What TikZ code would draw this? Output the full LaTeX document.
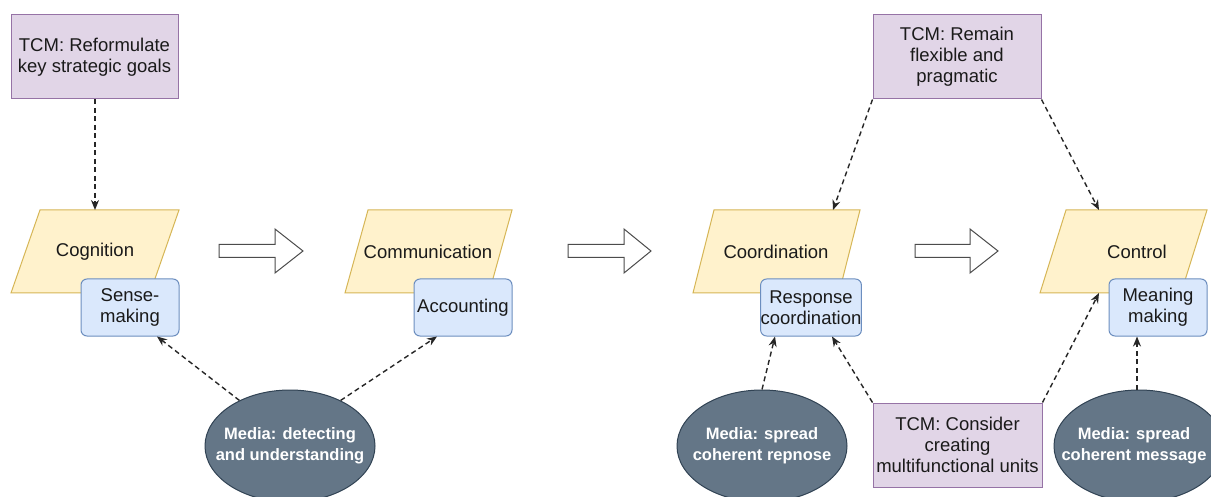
\documentclass[tikz,border=0pt]{standalone}
\usepackage{fontspec}
\setmainfont{Liberation Sans}
\usetikzlibrary{shapes.geometric,arrows.meta}
\definecolor{tcmfill}{HTML}{E1D5E7}
\definecolor{tcmline}{HTML}{9673A6}
\definecolor{yelfill}{HTML}{FFF2CC}
\definecolor{yelline}{HTML}{D6B656}
\definecolor{blufill}{HTML}{DAE8FC}
\definecolor{bluline}{HTML}{6C8EBF}
\definecolor{medfill}{HTML}{647687}
\definecolor{medline}{HTML}{314354}
\definecolor{txt}{HTML}{1A1A1A}
\tikzset{
  basefont/.style={font=\fontsize{18.5}{21}\selectfont, text=txt, align=center},
  tcmbox/.style={basefont, draw=tcmline, fill=tcmfill, line width=1pt, minimum height=84pt, inner sep=0pt},
  phase/.style={draw=yelline, fill=yelfill, line width=1pt},
  phasetext/.style={basefont},
  subbox/.style={basefont, draw=bluline, fill=blufill, line width=1pt, rounded corners=6pt, minimum width=98pt, minimum height=57pt, inner sep=0pt},
  media/.style={ellipse, draw=medline, fill=medfill, line width=1pt, minimum width=170pt, minimum height=112pt, inner sep=0pt},
  mediatext/.style={align=center, text=white, font=\bfseries\fontsize{16.5}{21}\selectfont},
  link/.style={draw=black!85, line width=1.4pt, dash pattern=on 5pt off 3.5pt, -{Stealth[length=10pt,width=8pt]}},
  bigarrow/.style={draw=black!70, fill=white, line width=1pt, line join=miter}
}
\begin{document}
\begin{tikzpicture}[x=1pt,y=-1pt]
\useasboundingbox[fill=white] (0,0) rectangle (1211,497);

% phases (parallelograms)
\draw[phase] (11,293) -- (40,210) -- (179,210) -- (150,293) -- cycle;
\draw[phase] (345,293) -- (368,210) -- (512,210) -- (489,293) -- cycle;
\draw[phase] (693,293) -- (714,210) -- (860,210) -- (839,293) -- cycle;
\draw[phase] (1040,293) -- (1066,210) -- (1207,210) -- (1181,293) -- cycle;
\node[phasetext] (cog) at (95,252) {Cognition};
\node[phasetext] (com) at (428,252) {Communication};
\node[phasetext] (coo) at (776,252) {Coordination};
\node[phasetext] (con) at (1137,252) {Control};

\coordinate (cogtop) at (95,210);
\coordinate (cootop) at (833,210);
\coordinate (contop) at (1099,210);
\coordinate (conbot) at (1099,293);

% hollow arrows
\draw[bigarrow] (219,244.5) -- (275,244.5) -- (275,229) -- (303,251) -- (275,273) -- (275,257.5) -- (219,257.5) -- cycle;
\draw[bigarrow] (568,244.5) -- (624,244.5) -- (624,229) -- (651,251) -- (624,273) -- (624,257.5) -- (568,257.5) -- cycle;
\draw[bigarrow] (915,244.5) -- (970,244.5) -- (970,229) -- (998,251) -- (970,273) -- (970,257.5) -- (915,257.5) -- cycle;

% sub boxes
\node[subbox] (sense) at (130,307.5) {Sense-\\making};
\node[subbox] (acc) at (463,307.5) {Accounting};
\node[subbox] (resp) at (811,307.5) {Response\\coordination};
\node[subbox] (mean) at (1158,307.5) {Meaning\\making};

% TCM boxes
\node[tcmbox, minimum width=167pt] (tcm1) at (94.5,57) {TCM: Reformulate\\key strategic goals};
\node[tcmbox, minimum width=168pt] (tcm2) at (957,57) {TCM: Remain\\flexible and\\pragmatic};
\node[tcmbox, minimum width=169pt] (tcm4) at (957.5,445) {TCM: Consider\\creating\\multifunctional units};

% media ellipses
\node[media] (e1) at (290,446) {};
\node[mediatext] (e1t) at (290,446) {Media: detecting\\and understanding};
\node[media] (e2) at (762,446) {};
\node[mediatext] (e2t) at (762,446) {Media: spread\\coherent repnose};
\node[media] (e3) at (1139,446) {};
\node[mediatext] (e3t) at (1134,446) {Media: spread\\coherent message};

% connectors
\draw[link] (tcm1.south -| cogtop) -- (cogtop);
\draw[link] (tcm2.south west) -- (cootop);
\draw[link] (tcm2.south east) -- (contop);
\draw[link] (e1.138) -- ([xshift=27pt]sense.south);
\draw[link] (e1.42) -- ([xshift=-26pt]acc.south);
\draw[link] (e2.north) -- ([xshift=-36pt]resp.south);
\draw[link] (tcm4.north west) -- ([xshift=21pt]resp.south);
\draw[link] (tcm4.north east) -- (conbot);
\draw[link] ([xshift=-2pt]e3.north) -- ([xshift=-2pt]e3.north |- mean.south);
\end{tikzpicture}
\end{document}
